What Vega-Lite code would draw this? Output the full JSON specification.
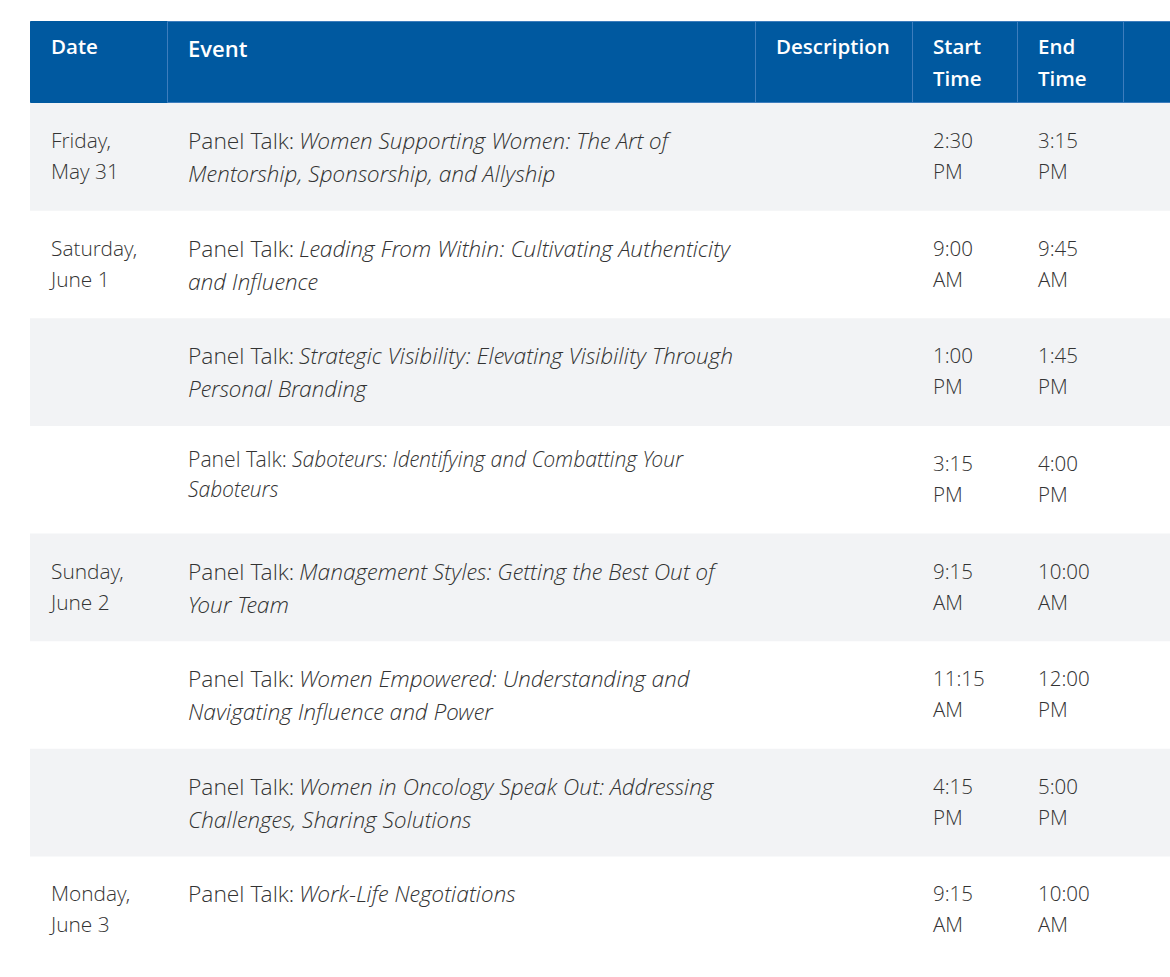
{
  "$schema": "https://vega.github.io/schema/vega-lite/v6.json",
  "background": "white",
  "padding": {"left": 29, "top": 20, "right": 0, "bottom": 0},
  "spacing": 0,
  "config": {
    "view": {"stroke": null},
    "concat": {"spacing": 0},
    "text": {"font": "Open Sans Light, Open Sans", "color": "#333333"}
  },
  "datasets": {
    "headers": [
      {"col": "Date", "label": "Date"},
      {"col": "Event", "label": "Event"},
      {"col": "Description", "label": "Description"},
      {"col": "Start", "label": "Start Time"},
      {"col": "End", "label": "End Time"},
      {"col": "Blank", "label": ""}
    ],
    "sessions": [
      {"row": 1, "date": "Friday,\nMay 31", "kind": "Panel Talk:", "title1": "Women Supporting Women: The Art of", "title2": "Mentorship, Sponsorship, and Allyship", "description": "", "start": "2:30 PM", "end": "3:15 PM"},
      {"row": 2, "date": "Saturday,\nJune 1", "kind": "Panel Talk:", "title1": "Leading From Within: Cultivating Authenticity", "title2": "and Influence", "description": "", "start": "9:00 AM", "end": "9:45 AM"},
      {"row": 3, "date": "", "kind": "Panel Talk:", "title1": "Strategic Visibility: Elevating Visibility Through", "title2": "Personal Branding", "description": "", "start": "1:00 PM", "end": "1:45 PM"},
      {"row": 4, "date": "", "kind": "Panel Talk:", "title1": "Saboteurs: Identifying and Combatting Your", "title2": "Saboteurs", "description": "", "start": "3:15 PM", "end": "4:00 PM"},
      {"row": 5, "date": "Sunday,\nJune 2", "kind": "Panel Talk:", "title1": "Management Styles: Getting the Best Out of", "title2": "Your Team", "description": "", "start": "9:15 AM", "end": "10:00 AM"},
      {"row": 6, "date": "", "kind": "Panel Talk:", "title1": "Women Empowered: Understanding and", "title2": "Navigating Influence and Power", "description": "", "start": "11:15 AM", "end": "12:00 PM"},
      {"row": 7, "date": "", "kind": "Panel Talk:", "title1": "Women in Oncology Speak Out: Addressing", "title2": "Challenges, Sharing Solutions", "description": "", "start": "4:15 PM", "end": "5:00 PM"},
      {"row": 8, "date": "Monday,\nJune 3", "kind": "Panel Talk:", "title1": "Work-Life Negotiations", "title2": "", "description": "", "start": "9:15 AM", "end": "10:00 AM"}
    ]
  },
  "vconcat": [
    {
      "spacing": 0,
      "bounds": "flush",
      "hconcat": [
        {
          "width": 137, "height": 81,
          "view": {"fill": "#0059a0", "stroke": "#0059a0"},
          "data": {"name": "headers"},
          "transform": [{"filter": "datum.col === 'Date'"}],
          "mark": {"type": "text", "align": "left", "baseline": "alphabetic", "dx": 21, "dy": 33, "fontSize": 20.5, "fontWeight": 600, "font": "Open Sans", "color": "white", "lineBreak": " ", "lineHeight": 32},
          "encoding": {
            "x": {"field": "col", "type": "nominal", "bandPosition": 0, "scale": {"type": "band", "paddingInner": 0, "paddingOuter": 0}, "axis": null},
            "y": {"field": "col", "type": "nominal", "bandPosition": 0, "scale": {"type": "band", "paddingInner": 0, "paddingOuter": 0}, "axis": null},
            "text": {"field": "label"}
          }
        },
        {
          "width": 588, "height": 81,
          "view": {"fill": "#0059a0", "stroke": "#3d7dbd"},
          "data": {"name": "headers"},
          "transform": [{"filter": "datum.col === 'Event'"}],
          "mark": {"type": "text", "align": "left", "baseline": "alphabetic", "dx": 21, "dy": 36, "fontSize": 22, "fontWeight": 600, "font": "Open Sans", "color": "white", "lineBreak": " ", "lineHeight": 32},
          "encoding": {
            "x": {"field": "col", "type": "nominal", "bandPosition": 0, "scale": {"type": "band", "paddingInner": 0, "paddingOuter": 0}, "axis": null},
            "y": {"field": "col", "type": "nominal", "bandPosition": 0, "scale": {"type": "band", "paddingInner": 0, "paddingOuter": 0}, "axis": null},
            "text": {"field": "label"}
          }
        },
        {
          "width": 157, "height": 81,
          "view": {"fill": "#0059a0", "stroke": "#3d7dbd"},
          "data": {"name": "headers"},
          "transform": [{"filter": "datum.col === 'Description'"}],
          "mark": {"type": "text", "align": "left", "baseline": "alphabetic", "dx": 21, "dy": 33, "fontSize": 20.5, "fontWeight": 600, "font": "Open Sans", "color": "white", "lineBreak": " ", "lineHeight": 32},
          "encoding": {
            "x": {"field": "col", "type": "nominal", "bandPosition": 0, "scale": {"type": "band", "paddingInner": 0, "paddingOuter": 0}, "axis": null},
            "y": {"field": "col", "type": "nominal", "bandPosition": 0, "scale": {"type": "band", "paddingInner": 0, "paddingOuter": 0}, "axis": null},
            "text": {"field": "label"}
          }
        },
        {
          "width": 105, "height": 81,
          "view": {"fill": "#0059a0", "stroke": "#3d7dbd"},
          "data": {"name": "headers"},
          "transform": [{"filter": "datum.col === 'Start'"}],
          "mark": {"type": "text", "align": "left", "baseline": "alphabetic", "dx": 21, "dy": 33, "fontSize": 20.5, "fontWeight": 600, "font": "Open Sans", "color": "white", "lineBreak": " ", "lineHeight": 32},
          "encoding": {
            "x": {"field": "col", "type": "nominal", "bandPosition": 0, "scale": {"type": "band", "paddingInner": 0, "paddingOuter": 0}, "axis": null},
            "y": {"field": "col", "type": "nominal", "bandPosition": 0, "scale": {"type": "band", "paddingInner": 0, "paddingOuter": 0}, "axis": null},
            "text": {"field": "label"}
          }
        },
        {
          "width": 106, "height": 81,
          "view": {"fill": "#0059a0", "stroke": "#3d7dbd"},
          "data": {"name": "headers"},
          "transform": [{"filter": "datum.col === 'End'"}],
          "mark": {"type": "text", "align": "left", "baseline": "alphabetic", "dx": 21, "dy": 33, "fontSize": 20.5, "fontWeight": 600, "font": "Open Sans", "color": "white", "lineBreak": " ", "lineHeight": 32},
          "encoding": {
            "x": {"field": "col", "type": "nominal", "bandPosition": 0, "scale": {"type": "band", "paddingInner": 0, "paddingOuter": 0}, "axis": null},
            "y": {"field": "col", "type": "nominal", "bandPosition": 0, "scale": {"type": "band", "paddingInner": 0, "paddingOuter": 0}, "axis": null},
            "text": {"field": "label"}
          }
        },
        {
          "width": 48, "height": 81,
          "view": {"fill": "#0059a0", "stroke": "#3d7dbd"},
          "data": {"name": "headers"},
          "transform": [{"filter": "datum.col === 'Blank'"}],
          "mark": {"type": "text", "align": "left", "baseline": "alphabetic", "dx": 21, "dy": 33, "fontSize": 20.5, "fontWeight": 600, "font": "Open Sans", "color": "white"},
          "encoding": {
            "x": {"field": "col", "type": "nominal", "bandPosition": 0, "scale": {"type": "band", "paddingInner": 0, "paddingOuter": 0}, "axis": null},
            "y": {"field": "col", "type": "nominal", "bandPosition": 0, "scale": {"type": "band", "paddingInner": 0, "paddingOuter": 0}, "axis": null},
            "text": {"field": "label"}
          }
        }
      ]
    },
    {
      "spacing": 0,
      "bounds": "flush",
      "hconcat": [
        {
          "width": 137, "height": 861,
          "data": {"name": "sessions"},
          "layer": [
            {
              "transform": [{"filter": "datum.row % 2 === 1"}],
              "mark": {"type": "rect", "color": "#f2f3f5"},
              "encoding": {
                "y": {"field": "row", "type": "ordinal", "scale": {"type": "band", "domain": [1, 2, 3, 4, 5, 6, 7, 8], "paddingInner": 0, "paddingOuter": 0}, "axis": null}
              }
            },
            {
              "mark": {"type": "text", "align": "left", "baseline": "alphabetic", "dx": 21, "dy": 45, "fontSize": 20.9, "fontWeight": 300, "lineBreak": "\n", "lineHeight": 31},
              "encoding": {
                "x": {"datum": "Date", "type": "nominal", "bandPosition": 0, "scale": {"type": "band", "paddingInner": 0, "paddingOuter": 0}, "axis": null},
                "y": {"field": "row", "type": "ordinal", "bandPosition": 0, "scale": {"type": "band", "domain": [1, 2, 3, 4, 5, 6, 7, 8], "paddingInner": 0, "paddingOuter": 0}, "axis": null},
                "text": {"field": "date"}
              }
            }
          ]
        },
        {
          "width": 588, "height": 861,
          "data": {"name": "sessions"},
          "encoding": {
            "x": {"datum": "Event", "type": "nominal", "bandPosition": 0, "scale": {"type": "band", "paddingInner": 0, "paddingOuter": 0}, "axis": null},
            "y": {"field": "row", "type": "ordinal", "bandPosition": 0, "scale": {"type": "band", "domain": [1, 2, 3, 4, 5, 6, 7, 8], "paddingInner": 0, "paddingOuter": 0}, "axis": null}
          },
          "layer": [
            {
              "transform": [{"filter": "datum.row % 2 === 1"}],
              "mark": {"type": "rect", "color": "#f2f3f5"},
              "encoding": {
                "x": null,
                "y": {"field": "row", "type": "ordinal", "scale": {"type": "band", "domain": [1, 2, 3, 4, 5, 6, 7, 8], "paddingInner": 0, "paddingOuter": 0}, "axis": null}
              }
            },
            {
              "transform": [{"filter": "datum.row !== 4"}],
              "mark": {"type": "text", "align": "left", "baseline": "alphabetic", "dx": 21, "dy": 46, "fontSize": 22.8, "fontWeight": 300},
              "encoding": {"text": {"field": "kind"}}
            },
            {
              "transform": [{"filter": "datum.row !== 4"}],
              "mark": {"type": "text", "align": "left", "baseline": "alphabetic", "dx": 132, "dy": 46, "fontSize": 22.8, "fontWeight": 300, "fontStyle": "italic"},
              "encoding": {"text": {"field": "title1"}}
            },
            {
              "transform": [{"filter": "datum.row !== 4"}],
              "mark": {"type": "text", "align": "left", "baseline": "alphabetic", "dx": 21, "dy": 79, "fontSize": 22.8, "fontWeight": 300, "fontStyle": "italic"},
              "encoding": {"text": {"field": "title2"}}
            },
            {
              "transform": [{"filter": "datum.row === 4"}],
              "mark": {"type": "text", "align": "left", "baseline": "alphabetic", "dx": 21, "dy": 41, "fontSize": 21.2, "fontWeight": 300},
              "encoding": {"text": {"field": "kind"}}
            },
            {
              "transform": [{"filter": "datum.row === 4"}],
              "mark": {"type": "text", "align": "left", "baseline": "alphabetic", "dx": 125, "dy": 41, "fontSize": 21.2, "fontWeight": 300, "fontStyle": "italic"},
              "encoding": {"text": {"field": "title1"}}
            },
            {
              "transform": [{"filter": "datum.row === 4"}],
              "mark": {"type": "text", "align": "left", "baseline": "alphabetic", "dx": 21, "dy": 71, "fontSize": 21.2, "fontWeight": 300, "fontStyle": "italic"},
              "encoding": {"text": {"field": "title2"}}
            }
          ]
        },
        {
          "width": 157, "height": 861,
          "data": {"name": "sessions"},
          "layer": [
            {
              "transform": [{"filter": "datum.row % 2 === 1"}],
              "mark": {"type": "rect", "color": "#f2f3f5"},
              "encoding": {
                "y": {"field": "row", "type": "ordinal", "scale": {"type": "band", "domain": [1, 2, 3, 4, 5, 6, 7, 8], "paddingInner": 0, "paddingOuter": 0}, "axis": null}
              }
            },
            {
              "mark": {"type": "text", "align": "left", "baseline": "alphabetic", "dx": 21, "dy": 45, "fontSize": 20.5, "fontWeight": 300},
              "encoding": {
                "x": {"datum": "Description", "type": "nominal", "bandPosition": 0, "scale": {"type": "band", "paddingInner": 0, "paddingOuter": 0}, "axis": null},
                "y": {"field": "row", "type": "ordinal", "bandPosition": 0, "scale": {"type": "band", "domain": [1, 2, 3, 4, 5, 6, 7, 8], "paddingInner": 0, "paddingOuter": 0}, "axis": null},
                "text": {"field": "description"}
              }
            }
          ]
        },
        {
          "width": 105, "height": 861,
          "data": {"name": "sessions"},
          "layer": [
            {
              "transform": [{"filter": "datum.row % 2 === 1"}],
              "mark": {"type": "rect", "color": "#f2f3f5"},
              "encoding": {
                "y": {"field": "row", "type": "ordinal", "scale": {"type": "band", "domain": [1, 2, 3, 4, 5, 6, 7, 8], "paddingInner": 0, "paddingOuter": 0}, "axis": null}
              }
            },
            {
              "mark": {"type": "text", "align": "left", "baseline": "alphabetic", "dx": 21, "dy": 45, "fontSize": 20.5, "fontWeight": 300, "lineBreak": " ", "lineHeight": 31},
              "encoding": {
                "x": {"datum": "Start", "type": "nominal", "bandPosition": 0, "scale": {"type": "band", "paddingInner": 0, "paddingOuter": 0}, "axis": null},
                "y": {"field": "row", "type": "ordinal", "bandPosition": 0, "scale": {"type": "band", "domain": [1, 2, 3, 4, 5, 6, 7, 8], "paddingInner": 0, "paddingOuter": 0}, "axis": null},
                "text": {"field": "start"}
              }
            }
          ]
        },
        {
          "width": 106, "height": 861,
          "data": {"name": "sessions"},
          "layer": [
            {
              "transform": [{"filter": "datum.row % 2 === 1"}],
              "mark": {"type": "rect", "color": "#f2f3f5"},
              "encoding": {
                "y": {"field": "row", "type": "ordinal", "scale": {"type": "band", "domain": [1, 2, 3, 4, 5, 6, 7, 8], "paddingInner": 0, "paddingOuter": 0}, "axis": null}
              }
            },
            {
              "mark": {"type": "text", "align": "left", "baseline": "alphabetic", "dx": 21, "dy": 45, "fontSize": 20.5, "fontWeight": 300, "lineBreak": " ", "lineHeight": 31},
              "encoding": {
                "x": {"datum": "End", "type": "nominal", "bandPosition": 0, "scale": {"type": "band", "paddingInner": 0, "paddingOuter": 0}, "axis": null},
                "y": {"field": "row", "type": "ordinal", "bandPosition": 0, "scale": {"type": "band", "domain": [1, 2, 3, 4, 5, 6, 7, 8], "paddingInner": 0, "paddingOuter": 0}, "axis": null},
                "text": {"field": "end"}
              }
            }
          ]
        },
        {
          "width": 48, "height": 861,
          "data": {"name": "sessions"},
          "layer": [
            {
              "transform": [{"filter": "datum.row % 2 === 1"}],
              "mark": {"type": "rect", "color": "#f2f3f5"},
              "encoding": {
                "y": {"field": "row", "type": "ordinal", "scale": {"type": "band", "domain": [1, 2, 3, 4, 5, 6, 7, 8], "paddingInner": 0, "paddingOuter": 0}, "axis": null}
              }
            }
          ]
        }
      ]
    }
  ]
}
